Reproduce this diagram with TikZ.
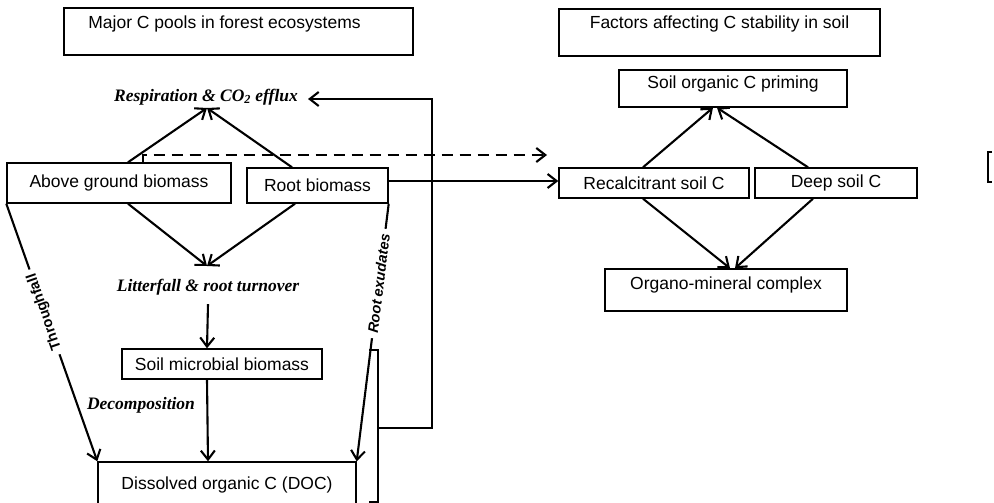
\documentclass[tikz,border=0pt]{standalone}
\usepackage{fontspec}
\setmainfont{Liberation Serif}
\setsansfont{Liberation Sans}
\usetikzlibrary{arrows.meta}

\begin{document}
\begin{tikzpicture}[x = 1pt, y = -1pt,
    pool/.style = {draw = black, line width = 1.4pt, rectangle, inner sep = 0pt, font = \sffamily\fontsize{17.5}{20}\selectfont},
    heading/.style = {font = \sffamily\fontsize{17.5}{20}\selectfont},
    flux/.style = {font = \bfseries\itshape\fontsize{17.5}{20}\selectfont, inner sep = 0pt},
    route/.style = {font = \sffamily\bfseries\fontsize{14.5}{16}\selectfont, fill = white, inner xsep = 5pt, inner ysep = 1pt},
    arr/.style = {line width = 2.1pt, -{Straight Barb[length = 9pt, width = 14pt]}}]
    \clip (0,0) rectangle (994,503);
    % headings
    \node (pools) at (238.5, 31.5) [pool, minimum width = 349pt, minimum height = 47pt] {};
    \node (poolstxt) at (224.5, 24) [heading] {Major C pools in forest ecosystems};
    \node (factors) at (719.5, 32.5) [pool, minimum width = 321pt, minimum height = 47pt] {};
    \node (factorstxt) at (719.5, 24) [heading] {Factors affecting C stability in soil};
    % forest pools
    \node (agb) at (119, 183) [pool, minimum width = 224pt, minimum height = 40pt] {Above ground biomass};
    \node (root) at (317.5, 185.5) [pool, minimum width = 141pt, minimum height = 35pt] {Root biomass};
    \node (smb) at (222, 364) [pool, minimum width = 200pt, minimum height = 30pt] {Soil microbial biomass};
    \node (doc) at (227, 485) [pool, minimum width = 258pt, minimum height = 46pt] {Dissolved organic C (DOC)};
    \node (resp) at (206, 97) [flux] {Respiration \& CO\textsubscript{2} efflux};
    \node (litter) at (208, 287) [flux] {Litterfall \& root turnover};
    \node (decomp) at (141, 405) [flux] {Decomposition};
    % soil stability
    \node (priming) at (733, 88.5) [pool, minimum width = 228pt, minimum height = 37pt, text depth = 12pt] {Soil organic C priming};
    \node (rec) at (654, 183) [pool, minimum width = 190pt, minimum height = 30pt] {Recalcitrant soil C};
    \node (deep) at (836, 183) [pool, minimum width = 162pt, minimum height = 30pt] {Deep soil C};
    \node (organo) at (726, 290) [pool, minimum width = 242pt, minimum height = 42pt, text depth = 14pt] {Organo-mineral complex};

    \coordinate (respin) at (207, 108);
    \coordinate (litin) at (207, 266);
    \coordinate (effin) at (308, 99);
    \coordinate (turn) at (432, 99);
    \coordinate (brk) at (378, 428);
    \coordinate (dashend) at (547, 155);

    \draw[arr] ([xshift = 9pt]agb.north) -- (respin);
    \draw[arr] ([xshift = -25.5pt]root.north) -- (respin);
    \draw[arr] ([xshift = 9pt]agb.south) -- (litin);
    \draw[arr] ([xshift = -22.5pt]root.south) -- (litin);
    \draw[arr] ([yshift = -9pt]litter.south) -- ([xshift = -15pt]smb.north);
    \draw[arr] ([xshift = -15pt]smb.south) -- ([xshift = -19pt]doc.north);
    \draw[arr] (agb.south west) -- node[pos = .42, route, rotate = 109] {Throughfall} (doc.north west);
    \draw[arr] (root.south east) -- node[pos = .31, route, font = \sffamily\bfseries\itshape\fontsize{14.5}{16}\selectfont, rotate = 83] {Root exudates} (doc.north east);

    % return to efflux
    \draw[line width = 2.1pt] (369, 350) -- (378, 350) -- (378, 502) -- (369, 502);
    \draw[arr] (brk) -| (turn) -- (effin);

    % links to soil
    \draw[arr, dash pattern = on 11pt off 7pt] ([xshift = 24pt]agb.north) |- (dashend);
    \draw[arr] ([yshift = 2pt]rec.west -| root.east) -- ([yshift = 2pt]rec.west);

    \draw[arr] ([xshift = -11pt]rec.north) -- ([xshift = -20pt]priming.south);
    \draw[arr] ([xshift = -28pt]deep.north) -- ([xshift = -16pt]priming.south);
    \draw[arr] ([xshift = -11pt]rec.south) -- ([xshift = 4pt]organo.north);
    \draw[arr] ([xshift = -23pt]deep.south) -- ([xshift = 9pt]organo.north);

    \draw[line width = 1.5pt] (992, 152) -- (988, 152) -- (988, 182) -- (992, 182);
\end{tikzpicture}
\end{document}
